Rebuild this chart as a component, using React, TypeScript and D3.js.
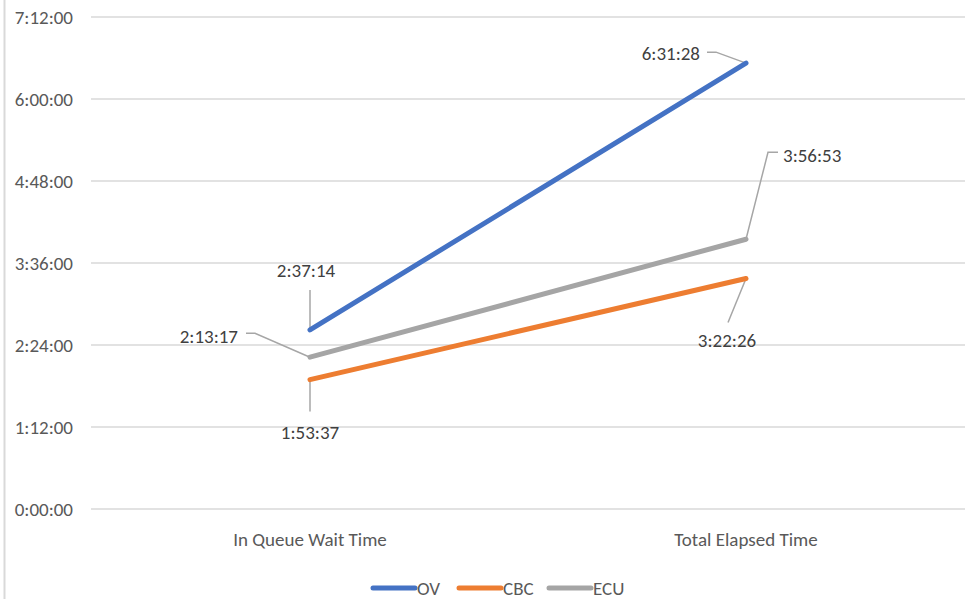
import React from "react";
import * as d3 from "d3";

const categories = ["In Queue Wait Time", "Total Elapsed Time"];
const seriesNames = ["OV", "CBC", "ECU"];
const ovValues = ["2:37:14", "6:31:28"];
const cbcValues = ["1:53:37", "3:22:26"];
const ecuValues = ["2:13:17", "3:56:53"];
const yTickLabels = ["0:00:00", "1:12:00", "2:24:00", "3:36:00", "4:48:00", "6:00:00", "7:12:00"];
const colors = ["#4472C4", "#ED7D31", "#A5A5A5"];

const toSec = (s: string) => {
  const [h, m, x] = s.split(":").map(Number);
  return h * 3600 + m * 60 + x;
};

type Lay = { tx: number; ty: number; anchor: string; leader: number[][] };
const layouts: Lay[][] = [
  [
    { tx: -4, ty: -60, anchor: "middle", leader: [[0, 0], [0, -40]] },
    { tx: -46, ty: -10, anchor: "end", leader: [[0, 0], [-30, -11], [-39, -11]] },
  ],
  [
    { tx: 0, ty: 53, anchor: "middle", leader: [[0, 0], [0, 32]] },
    { tx: -19, ty: 62, anchor: "middle", leader: [[0, 0], [-18, 44]] },
  ],
  [
    { tx: -72, ty: -21, anchor: "end", leader: [[0, 0], [-55, -24], [-64, -24]] },
    { tx: 37, ty: -84, anchor: "start", leader: [[0, 0], [22, -87], [32, -87]] },
  ],
];

export default function App() {
  const W = 972, H = 599;
  const seriesValues = [ovValues, cbcValues, ecuValues];
  const y = d3.scaleLinear().domain([0, toSec("7:12:00")]).range([509, 17]);
  const x = d3.scalePoint().domain(categories).range([310, 746]);
  const font = "'Liberation Sans Narrow', Carlito, Calibri, 'Open Sans', sans-serif";
  const textColor = "#595959";
  const fs = 19;
  const line = d3.line<[number, number]>().x(d => d[0]).y(d => d[1]);
  const legendX = [373, 459, 549];
  return (
    <svg width={W} height={H} style={{ position: "absolute", left: 0, top: 0, background: "#fff" }} fontFamily={font}>
      <line x1={4.5} x2={4.5} y1={0} y2={H} stroke="#d9d9d9" strokeWidth={2} />
      {yTickLabels.map((t) => (
        <g key={t}>
          <line x1={91} x2={965} y1={y(toSec(t))} y2={y(toSec(t))} stroke="#d9d9d9" strokeWidth={1.5} />
          <text x={73} y={y(toSec(t))} dy="0.35em" textAnchor="end" fontSize={fs} fill={textColor}>{t}</text>
        </g>
      ))}
      {categories.map((c) => (
        <text key={c} x={x(c)} y={539} dy="0.35em" textAnchor="middle" fontSize={fs} fill={textColor}>{c}</text>
      ))}
      {seriesValues.map((vals, si) => {
        const pts = vals.map((v, i) => [x(categories[i])!, y(toSec(v))] as [number, number]);
        return (
          <g key={seriesNames[si]}>
            {pts.map((p, i) => {
              const L = layouts[si][i];
              const lp = L.leader.map(([dx, dy]) => [p[0] + dx, p[1] + dy] as [number, number]);
              return <path key={"l" + i} d={line(lp)!} fill="none" stroke="#a6a6a6" strokeWidth={1.5} />;
            })}
            <path d={line(pts)!} fill="none" stroke={colors[si]} strokeWidth={5} strokeLinecap="round" />
          </g>
        );
      })}
      {seriesValues.map((vals, si) =>
        vals.map((v, i) => {
          const p = [x(categories[i])!, y(toSec(v))];
          const L = layouts[si][i];
          return (
            <text key={seriesNames[si] + i} x={p[0] + L.tx} y={p[1] + L.ty} dy="0.35em" textAnchor={L.anchor as any} fontSize={fs} fill="#404040">{v}</text>
          );
        })
      )}
      {seriesNames.map((n, i) => (
        <g key={n}>
          <line x1={legendX[i]} x2={legendX[i] + 42} y1={588} y2={588} stroke={colors[i]} strokeWidth={5} strokeLinecap="round" />
          <text x={legendX[i] + 44} y={588} dy="0.35em" fontSize={fs} fill={textColor}>{n}</text>
        </g>
      ))}
    </svg>
  );
}
